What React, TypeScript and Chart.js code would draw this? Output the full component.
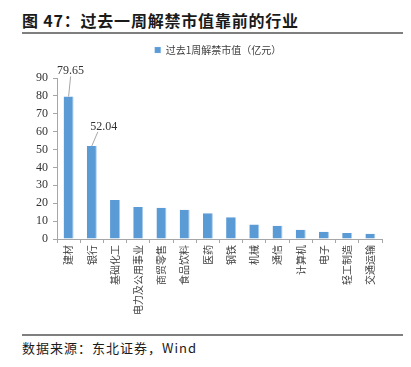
import React, { useEffect, useRef } from "react";
import { Chart, registerables } from "chart.js";

Chart.register(...registerables);

const categories = ["建材", "银行", "基础化工", "电力及公用事业", "商贸零售", "食品饮料", "医药", "钢铁", "机械", "通信", "计算机", "电子", "轻工制造", "交通运输"];
const values = [79.65, 52.04, 21.8, 17.9, 17.4, 16.3, 14.4, 12.2, 8.1, 7.4, 5.2, 4.1, 3.3, 2.9];
const seriesName = "过去1周解禁市值（亿元）";
const labeledIndexes = [0, 1];

const legendGap = {
  id: "legendGap",
  beforeInit(chart: any) {
    const legend = chart.legend;
    if (!legend) return;
    const orig = legend.fit;
    legend.fit = function () {
      orig.call(this);
      this.height += 13;
    };
  },
  afterLayout(chart: any) {
    const legend = chart.legend;
    if (!legend) return;
    legend.left += 27;
    legend.right += 27;
  },
};

const labelPlugin = {
  id: "leaderLabels",
  afterDatasetsDraw(chart: any) {
    const ctx = chart.ctx;
    const meta = chart.getDatasetMeta(0);
    const offsets = [
      [2, -26],
      [12, -19],
    ];
    ctx.save();
    ctx.font = "12px 'Liberation Serif', serif";
    ctx.fillStyle = "#333";
    ctx.textAlign = "center";
    ctx.textBaseline = "middle";
    labeledIndexes.forEach((idx, k) => {
      const el = meta.data[idx];
      const [dx, dy] = offsets[k];
      const lx = el.x + dx;
      const ly = el.y + dy;
      ctx.strokeStyle = "#a6a6a6";
      ctx.lineWidth = 1;
      ctx.beginPath();
      if (k === 0) {
        ctx.moveTo(lx, ly + 6);
        ctx.lineTo(el.x, el.y);
      } else {
        ctx.moveTo(lx - 6, ly + 5);
        ctx.lineTo(el.x, el.y);
      }
      ctx.stroke();
      ctx.fillText(values[idx].toFixed(2), lx, ly);
    });
    ctx.restore();
  },
};

export default function App() {
  const ref = useRef<HTMLCanvasElement>(null);
  useEffect(() => {
    const chart = new Chart(ref.current!, {
      type: "bar",
      data: {
        labels: categories,
        datasets: [
          {
            label: seriesName,
            data: values,
            backgroundColor: "#5B9BD5",
            borderColor: "#A9CBEC",
            borderWidth: { top: 0, left: 0, bottom: 0, right: 1 },
            borderSkipped: false,
            barPercentage: 0.43,
            categoryPercentage: 1,
          },
        ],
      },
      options: {
        animation: false,
        responsive: false,
        maintainAspectRatio: false,
        layout: { padding: { left: 0, right: 29, top: 2, bottom: 0 } },
        plugins: {
          legend: {
            display: true,
            position: "top",
            labels: {
              boxWidth: 6,
              boxHeight: 6,
              padding: 8,
              color: "#404040",
              font: { size: 10, family: "'Noto Sans CJK SC', sans-serif" },
            },
          },
          tooltip: { enabled: false },
        },
        scales: {
          x: {
            afterFit: (s: any) => {
              s.height = 81;
            },
            grid: {
              display: true,
              drawOnChartArea: false,
              drawTicks: true,
              tickLength: 4,
              color: "#a6a6a6",
              offset: true,
            },
            border: { display: true, color: "#a6a6a6" },
            ticks: {
              minRotation: 90,
              maxRotation: 90,
              autoSkip: false,
              color: "#404040",
              padding: 2,
              font: { size: 10, family: "'Noto Sans CJK SC', sans-serif" },
            },
          },
          y: {
            min: 0,
            max: 90,
            afterFit: (s: any) => {
              s.width = 57;
            },
            grid: {
              display: true,
              drawOnChartArea: false,
              drawTicks: true,
              tickLength: 4,
              color: "#a6a6a6",
            },
            border: { display: true, color: "#a6a6a6" },
            ticks: {
              stepSize: 10,
              color: "#333",
              padding: 5,
              font: { size: 12, family: "'Liberation Serif', serif" },
            },
          },
        },
      },
      plugins: [legendGap, labelPlugin],
    });
    return () => chart.destroy();
  }, []);

  return (
    <div style={{ position: "absolute", left: 0, top: 0, width: 411, height: 367, background: "#fff", overflow: "hidden" }}>
      <div
        style={{
          position: "absolute",
          left: 22,
          top: 9,
          fontFamily: "'Noto Sans CJK SC', sans-serif",
          fontWeight: 700,
          fontSize: 16,
          lineHeight: "22px",
          letterSpacing: 0.8,
          color: "#1a1a1a",
          whiteSpace: "nowrap",
        }}
      >
        图 47：过去一周解禁市值靠前的行业
      </div>
      <div style={{ position: "absolute", left: 22, top: 32, width: 381, height: 2, background: "#7f7f7f" }} />
      <canvas ref={ref} width={411} height={285} style={{ position: "absolute", left: 0, top: 35, width: 411, height: 285 }} />
      <div style={{ position: "absolute", left: 22, top: 334, width: 381, height: 1.5, background: "#7f7f7f" }} />
      <div
        style={{
          position: "absolute",
          left: 22,
          top: 339,
          fontFamily: "'Noto Sans CJK SC', sans-serif",
          fontSize: 13,
          lineHeight: "17px",
          letterSpacing: 1,
          color: "#1a1a1a",
          whiteSpace: "nowrap",
        }}
      >
        数据来源：东北证券，Wind
      </div>
    </div>
  );
}
